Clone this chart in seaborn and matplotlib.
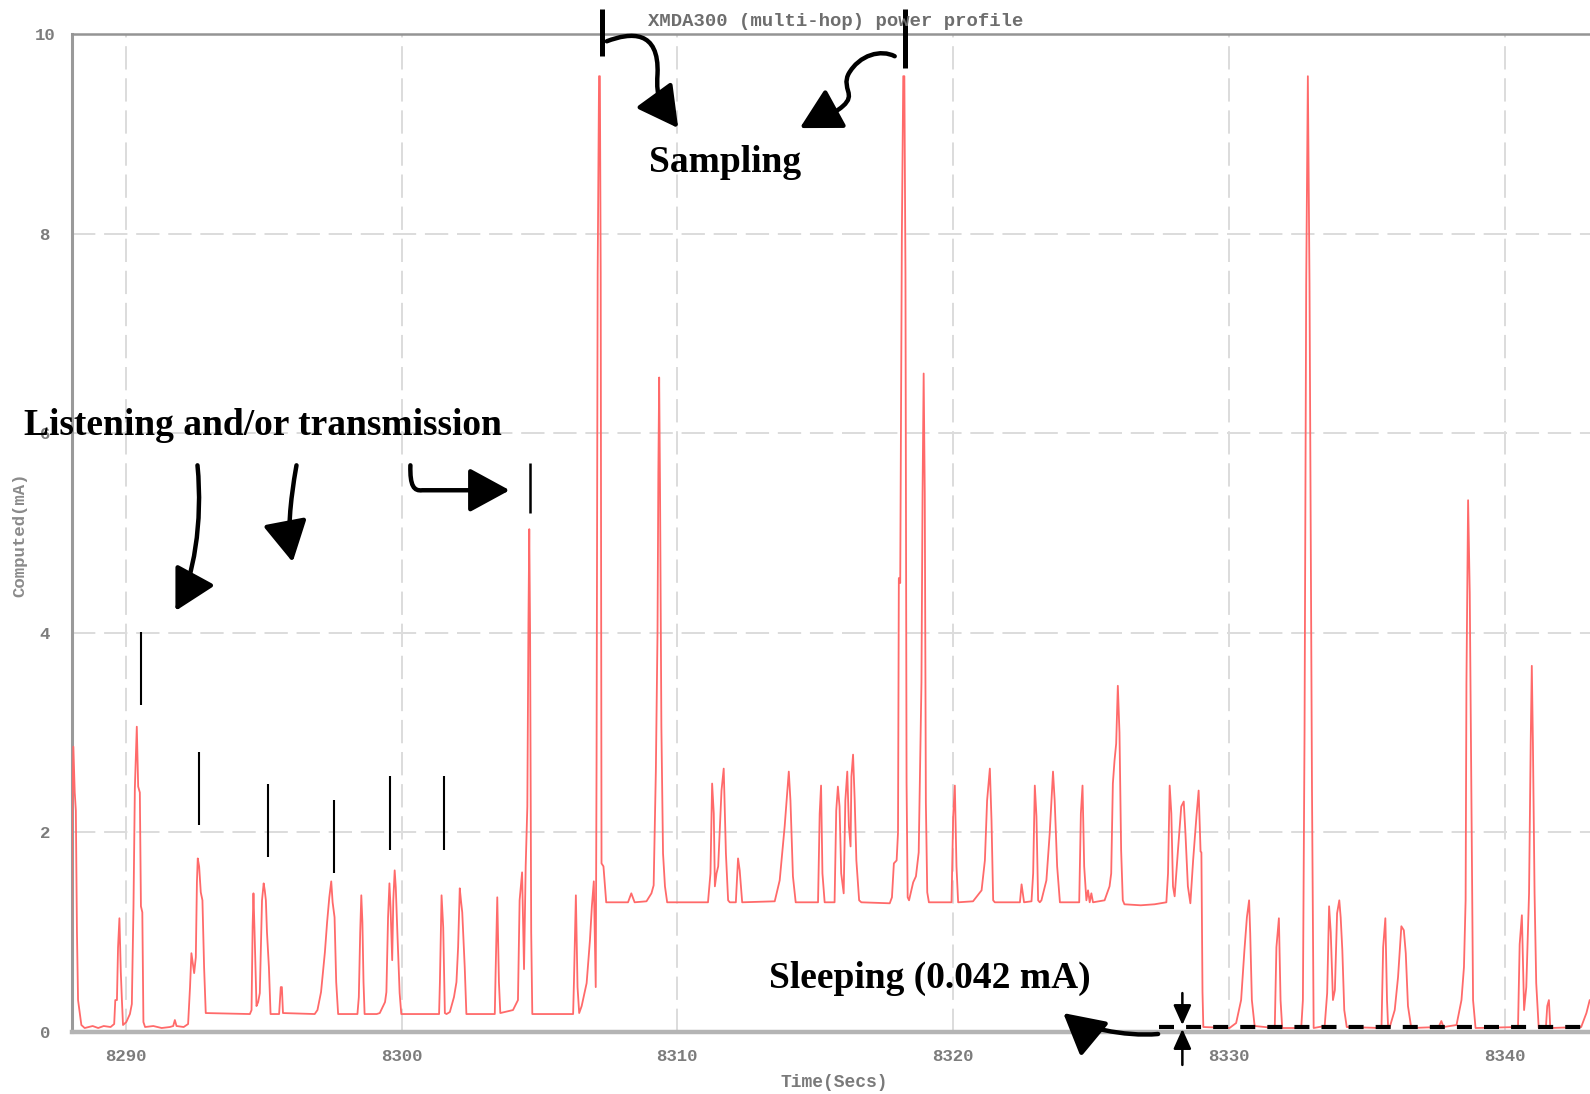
import numpy as np
import pandas as pd
import matplotlib
matplotlib.use("Agg")
import matplotlib.pyplot as plt
import seaborn as sns
from matplotlib.path import Path
from matplotlib.patches import FancyArrowPatch, ArrowStyle

# ---------------- data ----------------
time_s = [
    8288.02, 8288.06, 8288.10, 8288.15, 8288.19, 8288.23, 8288.27, 8288.39, 8288.51, 8288.80,
    8289.00, 8289.20, 8289.45, 8289.58, 8289.62, 8289.68, 8289.72, 8289.77, 8289.82, 8289.86,
    8289.90, 8290.02, 8290.15, 8290.22, 8290.28, 8290.33, 8290.40, 8290.45, 8290.51, 8290.55,
    8290.60, 8290.64, 8290.70, 8291.00, 8291.30, 8291.60, 8291.72, 8291.78, 8291.84, 8292.10,
    8292.26, 8292.33, 8292.38, 8292.45, 8292.48, 8292.54, 8292.58, 8292.61, 8292.66, 8292.72,
    8292.78, 8292.84, 8292.90, 8294.50, 8294.56, 8294.60, 8294.63, 8294.67, 8294.74, 8294.80,
    8294.86, 8294.94, 8295.00, 8295.04, 8295.08, 8295.12, 8295.19, 8295.25, 8295.56, 8295.62,
    8295.66, 8295.70, 8296.85, 8296.95, 8297.08, 8297.22, 8297.30, 8297.38, 8297.45, 8297.50,
    8297.57, 8297.63, 8297.70, 8298.40, 8298.45, 8298.50, 8298.54, 8298.58, 8298.62, 8298.66,
    8299.10, 8299.21, 8299.40, 8299.45, 8299.51, 8299.56, 8299.60, 8299.66, 8299.70, 8299.75,
    8299.79, 8299.85, 8299.93, 8299.99, 8301.36, 8301.39, 8301.45, 8301.51, 8301.55, 8301.57,
    8301.63, 8301.75, 8301.90, 8301.99, 8302.05, 8302.11, 8302.16, 8302.20, 8302.29, 8302.35,
    8303.38, 8303.41, 8303.47, 8303.53, 8303.58, 8304.04, 8304.22, 8304.28, 8304.37, 8304.44,
    8304.50, 8304.56, 8304.60, 8304.63, 8304.66, 8304.70, 8304.74, 8306.22, 8306.25, 8306.32,
    8306.38, 8306.44, 8306.53, 8306.71, 8306.83, 8306.90, 8306.97, 8307.04, 8307.07, 8307.11,
    8307.16, 8307.19, 8307.22, 8307.25, 8307.32, 8307.42, 8308.21, 8308.33, 8308.45, 8308.88,
    8309.06, 8309.14, 8309.22, 8309.28, 8309.31, 8309.34, 8309.37, 8309.42, 8309.48, 8309.55,
    8309.63, 8311.11, 8311.20, 8311.26, 8311.32, 8311.36, 8311.42, 8311.48, 8311.60, 8311.68,
    8311.76, 8311.84, 8311.90, 8312.12, 8312.20, 8312.26, 8312.35, 8313.53, 8313.71, 8313.89,
    8314.04, 8314.10, 8314.19, 8314.29, 8315.10, 8315.16, 8315.21, 8315.26, 8315.34, 8315.70,
    8315.76, 8315.82, 8315.88, 8315.94, 8316.03, 8316.09, 8316.16, 8316.22, 8316.28, 8316.31,
    8316.37, 8316.43, 8316.49, 8316.59, 8316.67, 8317.70, 8317.78, 8317.85, 8317.95, 8318.00,
    8318.03, 8318.08, 8318.14, 8318.19, 8318.23, 8318.27, 8318.31, 8318.35, 8318.40, 8318.55,
    8318.65, 8318.75, 8318.85, 8318.89, 8318.93, 8318.97, 8319.01, 8319.06, 8319.12, 8319.94,
    8320.00, 8320.06, 8320.12, 8320.18, 8320.72, 8321.03, 8321.15, 8321.23, 8321.33, 8321.39,
    8321.45, 8321.51, 8322.42, 8322.48, 8322.57, 8322.84, 8322.90, 8322.96, 8323.02, 8323.08,
    8323.14, 8323.20, 8323.38, 8323.50, 8323.62, 8323.68, 8323.77, 8323.87, 8324.57, 8324.63,
    8324.69, 8324.75, 8324.83, 8324.89, 8324.95, 8325.01, 8325.07, 8325.49, 8325.67, 8325.73,
    8325.79, 8325.85, 8325.91, 8325.97, 8326.03, 8326.09, 8326.15, 8326.21, 8326.80, 8327.30,
    8327.73, 8327.79, 8327.85, 8327.91, 8327.97, 8328.03, 8328.15, 8328.27, 8328.36, 8328.42,
    8328.51, 8328.60, 8328.70, 8328.82, 8328.90, 8328.97, 8329.00, 8329.04, 8329.07, 8330.02,
    8330.26, 8330.44, 8330.56, 8330.65, 8330.73, 8330.77, 8330.83, 8330.93, 8331.66, 8331.72,
    8331.81, 8331.87, 8331.93, 8332.62, 8332.68, 8332.74, 8332.80, 8332.86, 8332.92, 8333.01,
    8333.07, 8333.47, 8333.56, 8333.63, 8333.69, 8333.77, 8333.84, 8333.92, 8334.00, 8334.05,
    8334.11, 8334.18, 8334.27, 8335.53, 8335.59, 8335.67, 8335.73, 8335.77, 8335.83, 8336.01,
    8336.13, 8336.25, 8336.34, 8336.41, 8336.49, 8336.61, 8337.60, 8337.70, 8337.78, 8338.25,
    8338.43, 8338.52, 8338.58, 8338.61, 8338.67, 8338.73, 8338.79, 8338.85, 8338.94, 8340.48,
    8340.54, 8340.62, 8340.70, 8340.78, 8340.88, 8340.94, 8340.98, 8341.02, 8341.08, 8341.14,
    8341.23, 8341.49, 8341.54, 8341.60, 8341.65, 8342.77, 8342.96, 8343.08,
]
current_ma = [
    0.80, 2.20, 2.86, 2.40, 2.22, 1.00, 0.32, 0.07, 0.04, 0.06,
    0.04, 0.06, 0.05, 0.08, 0.32, 0.32, 0.85, 1.14, 0.60, 0.32,
    0.07, 0.10, 0.18, 0.28, 1.26, 2.45, 3.06, 2.46, 2.40, 1.26,
    1.20, 0.10, 0.05, 0.06, 0.04, 0.05, 0.06, 0.12, 0.06, 0.05,
    0.08, 0.45, 0.79, 0.65, 0.59, 0.75, 1.50, 1.74, 1.66, 1.40,
    1.32, 0.65, 0.19, 0.18, 0.22, 1.06, 1.39, 1.00, 0.26, 0.30,
    0.39, 1.32, 1.49, 1.42, 1.32, 1.00, 0.65, 0.18, 0.18, 0.45,
    0.45, 0.19, 0.18, 0.22, 0.40, 0.80, 1.10, 1.35, 1.51, 1.30,
    1.15, 0.50, 0.18, 0.18, 0.35, 1.00, 1.37, 1.10, 0.50, 0.18,
    0.18, 0.19, 0.30, 0.40, 1.15, 1.49, 1.25, 0.72, 1.32, 1.62,
    1.45, 0.98, 0.39, 0.18, 0.18, 0.50, 1.37, 1.05, 0.50, 0.19,
    0.18, 0.20, 0.35, 0.50, 0.85, 1.44, 1.30, 1.20, 0.65, 0.18,
    0.18, 0.60, 1.35, 0.50, 0.19, 0.22, 0.32, 1.32, 1.60, 0.63,
    1.66, 2.26, 4.10, 5.04, 4.00, 1.00, 0.18, 0.18, 0.50, 1.37,
    0.45, 0.19, 0.26, 0.49, 0.92, 1.26, 1.51, 0.45, 2.72, 7.60,
    9.58, 9.58, 7.60, 1.69, 1.66, 1.30, 1.30, 1.39, 1.30, 1.31,
    1.39, 1.47, 2.62, 4.00, 5.60, 6.56, 5.50, 3.06, 1.79, 1.46,
    1.30, 1.30, 1.59, 2.49, 2.19, 1.46, 1.59, 1.66, 2.42, 2.64,
    1.79, 1.32, 1.30, 1.30, 1.74, 1.62, 1.30, 1.31, 1.52, 2.06,
    2.61, 2.32, 1.56, 1.30, 1.30, 2.19, 2.47, 1.59, 1.30, 1.30,
    2.22, 2.46, 2.26, 1.59, 1.39, 2.32, 2.61, 2.06, 1.86, 2.56,
    2.78, 2.32, 1.72, 1.32, 1.30, 1.29, 1.35, 1.69, 1.72, 2.00,
    4.55, 4.50, 8.00, 9.58, 9.58, 7.60, 2.50, 1.35, 1.32, 1.50,
    1.56, 1.80, 3.50, 5.40, 6.60, 5.40, 2.30, 1.40, 1.30, 1.30,
    2.16, 2.47, 1.66, 1.30, 1.31, 1.42, 1.72, 2.32, 2.64, 2.12,
    1.32, 1.30, 1.30, 1.48, 1.30, 1.31, 1.59, 2.47, 2.16, 1.32,
    1.30, 1.32, 1.52, 1.99, 2.61, 2.32, 1.66, 1.30, 1.30, 2.19,
    2.47, 1.66, 1.32, 1.42, 1.30, 1.39, 1.30, 1.32, 1.46, 1.59,
    2.49, 2.72, 2.89, 3.47, 3.00, 1.82, 1.32, 1.28, 1.27, 1.28,
    1.30, 1.59, 2.47, 2.19, 1.46, 1.36, 1.82, 2.26, 2.31, 2.00,
    1.46, 1.29, 1.72, 2.16, 2.42, 1.81, 1.80, 0.40, 0.05, 0.04,
    0.09, 0.32, 0.82, 1.15, 1.32, 0.99, 0.32, 0.06, 0.04, 0.85,
    1.14, 0.32, 0.04, 0.04, 0.32, 3.00, 7.50, 9.58, 7.50, 2.42,
    0.04, 0.06, 0.39, 1.26, 1.00, 0.32, 0.42, 1.19, 1.32, 1.15,
    0.82, 0.22, 0.05, 0.04, 0.85, 1.14, 0.32, 0.05, 0.05, 0.22,
    0.55, 1.06, 1.02, 0.79, 0.26, 0.04, 0.05, 0.11, 0.05, 0.07,
    0.32, 0.65, 1.32, 3.50, 5.33, 4.40, 2.32, 0.32, 0.04, 0.05,
    0.88, 1.17, 0.22, 0.45, 1.39, 2.90, 3.67, 2.90, 1.39, 0.49,
    0.04, 0.04, 0.26, 0.32, 0.04, 0.05, 0.19, 0.32,
]
x_ticks = [8290, 8300, 8310, 8320, 8330, 8340]
y_ticks = [0, 2, 4, 6, 8, 10]
title_text = "XMDA300 (multi-hop) power profile"
x_label = "Time(Secs)"
y_label = "Computed(mA)"

df = pd.DataFrame({"time": time_s, "mA": current_ma})

# ---------------- figure ----------------
sns.set_style("white")
plt.rcParams["font.family"] = ["Liberation Mono", "DejaVu Sans Mono"]

fig = plt.figure(figsize=(15.9, 10.94), dpi=100)
ax = fig.add_axes([0.0451, 0.05667, 0.9549, 0.91198])

sns.lineplot(data=df, x="time", y="mA", ax=ax, estimator=None, sort=False,
             color="#ff6a6a", lw=1.3, zorder=3)

ax.set_xlim(8288.04, 8343.09)
ax.set_ylim(0, 10)
ax.set_xticks(x_ticks)
ax.set_yticks(y_ticks)
ax.set_xticklabels([str(v) for v in x_ticks])
ax.set_yticklabels([str(v) for v in y_ticks])

ax.grid(True, color="#dcdcdc", lw=1.4, linestyle=(0, (12, 4.5)), zorder=0)
ax.set_axisbelow(True)

for side in ["left", "bottom", "top"]:
    ax.spines[side].set_visible(True)
ax.spines["right"].set_visible(False)
ax.spines["left"].set_color("#9a9a9a")
ax.spines["left"].set_linewidth(2.2)
ax.spines["bottom"].set_color("#b4b4b4")
ax.spines["bottom"].set_linewidth(3.2)
ax.spines["top"].set_color("#949494")
ax.spines["top"].set_linewidth(1.8)

ax.tick_params(axis="y", direction="out", length=10, width=1.6, color="#707070",
               pad=9.4, labelsize=12.5, labelcolor="#7c7c7c")
ax.tick_params(axis="x", direction="out", length=8.5, width=1.6, color="#707070",
               pad=4, labelsize=12.5, labelcolor="#7c7c7c")
for lab in ax.get_yticklabels() + ax.get_xticklabels():
    lab.set_fontweight("bold")
for lab in ax.get_yticklabels():
    lab.set_ha("center")

ax.set_xlabel(x_label, fontsize=13, color="#7a7a7a", fontweight="bold")
ax.xaxis.set_label_coords(0.5023, -0.0511)
ax.xaxis.label.set_va("center")
ax.set_ylabel(y_label, fontsize=12.5, color="#8a8a8a", fontweight="bold")
ax.yaxis.set_label_coords(-0.0342, 0.498)
ax.yaxis.label.set_va("center")

fig.text(0.5258, 0.9805, title_text, ha="center", va="center",
         fontsize=13.6, color="#6e6e6e", fontweight="bold")

# ---------------- annotations ----------------
serif = dict(family=["Liberation Serif", "DejaVu Serif"], weight="bold",
             size=27, color="black", ha="center", va="center", zorder=10)
ax.text(8311.72, 8.72, "Sampling", **serif)
ax.text(8294.97, 6.08, "Listening and/or transmission", **serif)
ax.text(8319.15, 0.54, "Sleeping (0.042 mA)", **serif)

# short black marker lines above the bursts
thin_marks = [(8290.54, 3.28, 4.01), (8292.64, 2.07, 2.81), (8295.14, 1.75, 2.49),
              (8297.56, 1.59, 2.33), (8299.59, 1.82, 2.57), (8301.53, 1.82, 2.57)]
for xm, y0, y1 in thin_marks:
    ax.plot([xm, xm], [y0, y1], color="black", lw=1.5, zorder=6, solid_capstyle="butt")
ax.plot([8304.66, 8304.66], [5.20, 5.70], color="black", lw=1.8, zorder=6,
        solid_capstyle="butt")
for xm, y0 in [(8307.25, 9.78), (8318.25, 9.66)]:
    ax.plot([xm, xm], [y0, 10.25], color="black", lw=3.6, zorder=6,
            clip_on=False, solid_capstyle="butt")

# sleeping level dashed line
ax.plot([8327.45, 8343.09], [0.055, 0.055], color="black", lw=3.0,
        dashes=(3.6, 2.9), zorder=6, clip_on=False)

M, C, L = Path.MOVETO, Path.CURVE4, Path.LINETO


def curved_arrow(verts, codes, lw=3.2, ms=20, hl=1.25, hw=0.68):
    p = FancyArrowPatch(path=Path(verts, codes),
                        arrowstyle=ArrowStyle("-|>", head_length=hl, head_width=hw),
                        mutation_scale=ms, lw=lw, color="black",
                        transform=ax.transData, clip_on=False, zorder=7,
                        capstyle="round", joinstyle="round")
    ax.add_patch(p)


curved_arrow([(8292.60, 5.68), (8292.80, 5.10), (8292.45, 4.55), (8291.80, 4.22)],
             [M, C, C, C])
curved_arrow([(8296.19, 5.68), (8295.95, 5.30), (8295.85, 5.00), (8296.05, 4.71)],
             [M, C, C, C])
curved_arrow([(8300.32, 5.68), (8300.30, 5.47), (8300.45, 5.42), (8300.75, 5.43),
              (8303.92, 5.43)], [M, C, C, C, L])
curved_arrow([(8307.44, 9.93), (8308.30, 10.02), (8309.35, 10.05), (8309.28, 9.60),
              (8309.22, 9.35), (8309.40, 9.30), (8310.03, 9.06)], [M, C, C, C, C, C, C])
curved_arrow([(8317.88, 9.78), (8317.40, 9.85), (8316.60, 9.80), (8316.20, 9.60),
              (8315.95, 9.45), (8316.50, 9.40), (8316.00, 9.28),
              (8315.60, 9.18), (8315.10, 9.16), (8314.44, 9.06)],
             [M, C, C, C, C, C, C, C, C, C])
curved_arrow([(8327.43, -0.02), (8326.20, -0.05), (8324.60, 0.05), (8323.99, 0.19)],
             [M, C, C, C])

for y_start, y_tip in [(0.39, 0.07), (-0.33, 0.03)]:
    a = FancyArrowPatch((8328.31, y_start), (8328.31, y_tip),
                        arrowstyle=ArrowStyle("-|>", head_length=1.0, head_width=0.45),
                        mutation_scale=12, lw=1.8, color="black", shrinkA=0, shrinkB=0,
                        transform=ax.transData, clip_on=False, zorder=7)
    ax.add_patch(a)

ax.set_xlim(8288.04, 8343.09)
ax.set_ylim(0, 10)

fig.savefig("out.png", dpi=100)
